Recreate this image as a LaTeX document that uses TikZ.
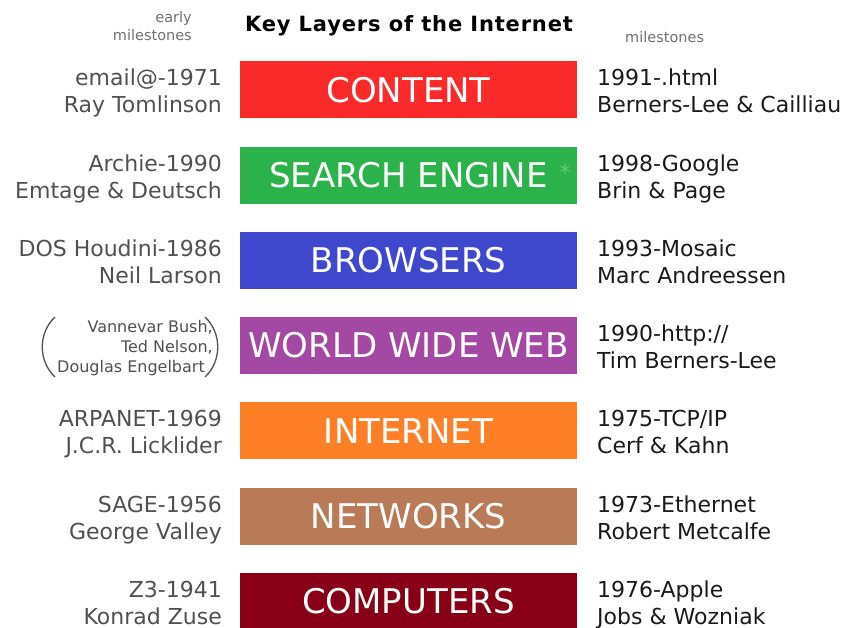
\documentclass[tikz,border=0pt]{standalone}
\usepackage{fontspec}
\setmainfont{DejaVu Sans}
\definecolor{cContent}{HTML}{FB2A2A}
\definecolor{cSearch}{HTML}{2BB24A}
\definecolor{cBrowse}{HTML}{3F48CC}
\definecolor{cWeb}{HTML}{A349A4}
\definecolor{cNet}{HTML}{FF7F27}
\definecolor{cNetworks}{HTML}{B97A57}
\definecolor{cComp}{HTML}{880015}
\definecolor{leftgray}{HTML}{505050}
\definecolor{rightdark}{HTML}{1A1A1A}
\definecolor{headgray}{HTML}{707070}
\tikzset{
  layerbar/.style={fill=#1, draw=none, minimum width=337pt, minimum height=57pt,
    inner sep=0pt, text=white, font=\fontsize{34}{34}\selectfont},
  % two-line labels are placed by the baseline of their second line
  lefttxt/.style={anchor=base east, align=right, inner sep=0pt, text=leftgray,
    font=\fontsize{22}{27}\selectfont},
  righttxt/.style={anchor=base west, align=left, inner sep=0pt, text=rightdark,
    font=\fontsize{22}{27}\selectfont},
  headtxt/.style={inner sep=0pt, text=headgray, font=\fontsize{14.5}{18}\selectfont},
}
\begin{document}
\begin{tikzpicture}[x=1pt,y=-1pt]
\useasboundingbox (0,0) rectangle (848,628);

% header
\node[headtxt, anchor=base east, align=right] (hleft) at (192,41) {early\\milestones};
\node[inner sep=0pt, anchor=base, font=\fontsize{21}{21}\selectfont\bfseries\addfontfeatures{LetterSpace=4}] (title) at (409,32) {Key Layers of the Internet};
\node[headtxt, anchor=base west] (hright) at (625,43) {milestones};

% layer bars
\node[layerbar=cContent]  (content)   at (408.5,90)    {CONTENT};
\node[layerbar=cSearch]   (search)    at (408.5,175.2) {SEARCH ENGINE};
\node[layerbar=cBrowse]   (browsers)  at (408.5,260.4) {BROWSERS};
\node[layerbar=cWeb]      (www)       at (408.5,345.6) {WORLD WIDE WEB};
\node[layerbar=cNet]      (internet)  at (408.5,430.8) {INTERNET};
\node[layerbar=cNetworks] (networks)  at (408.5,516)   {NETWORKS};
\node[layerbar=cComp]     (computers) at (408.5,601.2) {COMPUTERS};
\node[inner sep=0pt, text=cSearch!70!white, font=\fontsize{22}{22}\selectfont] (star) at (565,172) {*};

% early milestones
\node[lefttxt] (l1) at (222,113)   {email@-1971\\Ray Tomlinson};
\node[lefttxt] (l2) at (222,198.2) {Archie-1990\\Emtage \& Deutsch};
\node[lefttxt] (l3) at (222,283.4) {DOS Houdini-1986\\Neil Larson};
\node[inner sep=0pt, anchor=base east, align=right, text=leftgray,
      font=\fontsize{16}{20}\selectfont] (l4) at (213,372)
      {Vannevar Bush,\\Ted Nelson,\\Douglas Engelbart\hspace*{8pt}};
\draw[leftgray, line width=1.3pt] (55,317) .. controls (38,333) and (38,361) .. (55,377);
\draw[leftgray, line width=1.3pt] (205,317) .. controls (222,333) and (222,361) .. (205,377);
\node[lefttxt] (l5) at (222,453.8) {ARPANET-1969\\J.C.R. Licklider};
\node[lefttxt] (l6) at (222,539)   {SAGE-1956\\George Valley};
\node[lefttxt] (l7) at (222,624.2) {Z3-1941\\Konrad Zuse};

% later milestones
\node[righttxt] (r1) at (597,113)   {1991-.html\\Berners-Lee \& Cailliau};
\node[righttxt] (r2) at (597,198.2) {1998-Google\\Brin \& Page};
\node[righttxt] (r3) at (597,283.4) {1993-Mosaic\\Marc Andreessen};
\node[righttxt] (r4) at (597,368.6) {1990-http://\\Tim Berners-Lee};
\node[righttxt] (r5) at (597,453.8) {1975-TCP/IP\\Cerf \& Kahn};
\node[righttxt] (r6) at (597,539)   {1973-Ethernet\\Robert Metcalfe};
\node[righttxt] (r7) at (597,624.2) {1976-Apple\\Jobs \& Wozniak};
\end{tikzpicture}
\end{document}
